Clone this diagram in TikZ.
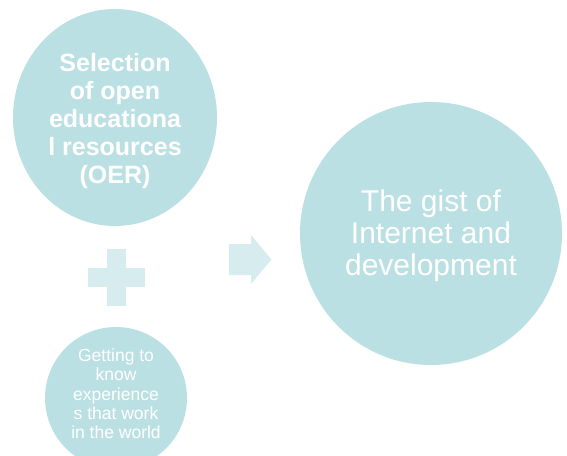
\documentclass[tikz,border=0pt]{standalone}
\usepackage{fontspec}
\setmainfont{Liberation Sans}
\usetikzlibrary{shapes.geometric}
\definecolor{bubble}{HTML}{BBE0E3}
\definecolor{glyph}{HTML}{D6ECEE}
\tikzset{
  bubble/.style={ellipse, fill=bubble, draw=none, inner sep=0pt},
  caption/.style={text=white, align=center, inner sep=0pt},
  glyph/.style={fill=glyph, draw=none}
}
\begin{document}
\begin{tikzpicture}[x=1pt, y=-1pt]
  \useasboundingbox (0,0) rectangle (567,455);
  \clip (0,0) rectangle (567,455);

  % first input: OER
  \node[bubble, minimum width=204pt, minimum height=217pt] (oer) at (115,117.5) {};
  \node[caption, font=\bfseries\fontsize{25}{28}\selectfont, yshift=-4pt]
    (oertext) at (oer.center)
    {Selection\\of open\\educationa\\l resources\\(OER)};

  % second input: experiences
  \node[bubble, minimum width=142pt, minimum height=142pt] (exp) at (116,398) {};
  \node[caption, font=\fontsize{17.5}{19.3}\selectfont, yshift=4pt]
    (exptext) at (exp.center)
    {Getting to\\know\\experience\\s that work\\in the world};

  % result
  \node[bubble, minimum width=262pt, minimum height=263pt] (gist) at (431,233.5) {};
  \node[caption, font=\fontsize{30}{31.8}\selectfont, yshift=-2.5pt]
    (gisttext) at (gist.center)
    {The gist of\\Internet and\\development};

  % plus sign between the inputs
  \coordinate (plus) at (116.5,277.5);
  \fill[glyph] (88,268) rectangle (144.5,286.5);
  \fill[glyph] (107,249) rectangle (126,306);

  % arrow towards the result
  \coordinate (arrow) at (250,259.5);
  \fill[glyph] (229,244) -- (251,244) -- (251,235) -- (271.5,259.5)
    -- (251,284) -- (251,275) -- (229,275) -- cycle;
\end{tikzpicture}
\end{document}
